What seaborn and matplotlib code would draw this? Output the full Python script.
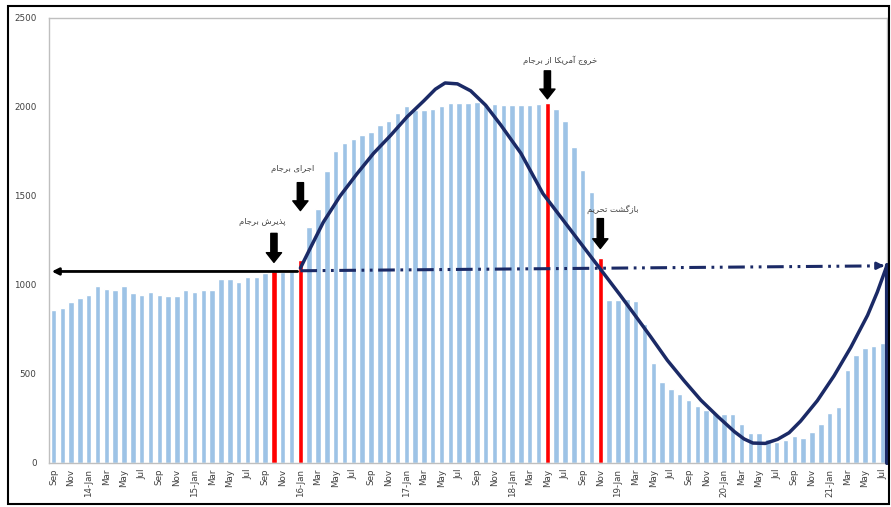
import pandas as pd
import matplotlib.pyplot as plt
import seaborn as sns
from matplotlib.patches import Rectangle

# Monthly values, Sep 2013 .. Jul 2021
months = pd.date_range("2013-09-01", periods=95, freq="MS")
values = [
    858, 873, 904, 929, 945, 992, 977, 973, 992, 955, 945, 960, 945, 940, 940,
    970, 960, 970, 970, 1033, 1033, 1015, 1045, 1045, 1067,
    1078, 1075, 1078, 1140,
    1325, 1427, 1640, 1754, 1796, 1820, 1844, 1861, 1900, 1919, 1969, 2007,
    1982, 1982, 1986, 2007, 2020, 2024, 2024, 2027, 2016, 2016, 2011, 2011,
    2011, 2013, 2016,
    2025, 1988, 1923, 1777, 1646, 1525, 1150,
    914, 917, 923, 910, 783, 562, 456, 413, 387, 353, 320, 297, 282, 275, 275,
    219, 166, 166, 133, 120, 129, 151, 138, 176, 219, 279, 316, 521, 605, 646,
    658, 674,
]
event_idx = [25, 28, 56, 62]
event_labels = ["پذیرش برجام", "اجرای برجام", "خروج آمریکا از برجام", "بازگشت تحریم"]

# hand-drawn trend curve (month index, value)
curve_x = [28.0, 29.2, 30.6, 32.5, 34.4, 36.3, 38.2, 40.1, 42.0, 43.3, 44.4, 45.8,
           47.3, 49.0, 50.7, 53.0, 55.5, 57.5, 60.0, 62.0, 64.3, 65.8, 67.7, 69.6,
           71.5, 73.4, 75.3, 77.2, 78.3, 79.3, 80.7, 82.1, 83.4, 84.7, 86.6, 88.5,
           90.4, 92.3, 93.4, 94.5]
curve_y = [1095, 1215, 1353, 1500, 1624, 1740, 1839, 1945, 2035, 2100, 2135, 2130,
           2091, 2010, 1900, 1740, 1513, 1383, 1220, 1090, 940, 839, 710, 577,
           462, 353, 262, 176, 135, 112, 110, 133, 170, 235, 350, 490,
           650, 830, 960, 1110]
base_left = 1076          # level before implementation
base_right = [1080, 1108]  # dash-dot level after implementation

# crude Persian shaping (presentation forms, visual order)
FORMS = {
    'ا': ('\uFE8D', '\uFE8E', None, None), 'آ': ('\uFE81', '\uFE82', None, None),
    'ب': ('\uFE8F', '\uFE90', '\uFE91', '\uFE92'), 'پ': ('\uFB56', '\uFB57', '\uFB58', '\uFB59'),
    'ت': ('\uFE95', '\uFE96', '\uFE97', '\uFE98'), 'ج': ('\uFE9D', '\uFE9E', '\uFE9F', '\uFEA0'),
    'ح': ('\uFEA1', '\uFEA2', '\uFEA3', '\uFEA4'), 'خ': ('\uFEA5', '\uFEA6', '\uFEA7', '\uFEA8'),
    'ذ': ('\uFEAB', '\uFEAC', None, None), 'ر': ('\uFEAD', '\uFEAE', None, None),
    'ز': ('\uFEAF', '\uFEB0', None, None), 'ش': ('\uFEB5', '\uFEB6', '\uFEB7', '\uFEB8'),
    'ک': ('\uFB8E', '\uFB8F', '\uFB90', '\uFB91'), 'گ': ('\uFB92', '\uFB93', '\uFB94', '\uFB95'),
    'م': ('\uFEE1', '\uFEE2', '\uFEE3', '\uFEE4'), 'و': ('\uFEED', '\uFEEE', None, None),
    'ی': ('\uFBFC', '\uFBFD', '\uFBFE', '\uFBFF'),
}


def shape(text):
    out = []
    for i, ch in enumerate(text):
        if ch not in FORMS:
            out.append(ch)
            continue
        prev = text[i - 1] if i > 0 else ''
        nxt = text[i + 1] if i + 1 < len(text) else ''
        jp = prev in FORMS and FORMS[prev][2] is not None
        jn = nxt in FORMS and FORMS[ch][2] is not None
        iso, fin, ini, med = FORMS[ch]
        out.append(med if jp and jn else fin if jp else ini if jn else iso)
    return ''.join(reversed(out))


labels = [m.strftime("%y-%b") if m.month == 1 else m.strftime("%b") for m in months]
colors = ["#FF0000" if i in event_idx else "#9DC3E6" for i in range(len(values))]
df = pd.DataFrame({"month": [m.strftime("%Y-%m") for m in months], "value": values})

sns.set_style("white")
plt.rcParams['font.family'] = ['DejaVu Sans']
plt.rcParams['lines.scale_dashes'] = False

fig = plt.figure(figsize=(8.91, 5.07), dpi=100)
ax = fig.add_axes([0.055, 0.0868, 0.9405, 0.8777])
sns.barplot(data=df, x="month", y="value", hue="month", palette=colors,
            legend=False, width=0.62, saturation=1, ax=ax)

navy = "#1B2A66"
ax.plot(curve_x, curve_y, color=navy, lw=2.5, solid_capstyle="round", zorder=4)
ax.plot([94.5, 94.5], [0, curve_y[-1]], color=navy, lw=3, clip_on=False, zorder=4)

# black baseline with arrow to the left
ax.annotate("", xy=(-0.5, base_left), xytext=(28, base_left),
            arrowprops=dict(arrowstyle="-|>", color="black", lw=2, mutation_scale=10),
            zorder=5, annotation_clip=False)
# dash-dot-dot line to the right
ax.plot([28, 93.8], [base_right[0], base_right[1] - 0.5], color=navy, lw=2.2,
        dashes=[12, 4, 2, 4, 2, 4], zorder=4)
ax.annotate("", xy=(94.5, base_right[1]), xytext=(93.5, base_right[1]),
            arrowprops=dict(arrowstyle="-|>", color=navy, lw=2, mutation_scale=10),
            zorder=5, annotation_clip=False)

# event arrows and labels
arrow_top = [1290, 1575, 2203, 1373]
arrow_tip = [1127, 1418, 2046, 1205]
text_x = [23.7, 27.1, 57.5, 63.4]
text_y = [1357, 1654, 2265, 1424]
for i, top, tip, tx, ty, lab in zip(event_idx, arrow_top, arrow_tip, text_x, text_y, event_labels):
    ax.annotate("", xy=(i, tip), xytext=(i, top),
                arrowprops=dict(facecolor="black", edgecolor="black", width=4.5,
                                headwidth=11, headlength=7, shrink=0), zorder=6)
    ax.text(tx, ty, shape(lab), ha="center", va="center", fontsize=6, color="#404040")

ax.set_xlim(-0.5, 94.5)
ax.set_ylim(0, 2500)
ax.set_yticks(range(0, 2501, 500))
ax.set_xticks(range(0, len(values), 2))
ax.set_xticklabels(labels[::2], rotation=90, fontsize=6.3, color="#404040")
ax.tick_params(axis="y", labelsize=6.3, labelcolor="#404040", length=0, pad=9)
ax.tick_params(axis="x", length=0, pad=4)
ax.set_xlabel("")
ax.set_ylabel("")
for s in ax.spines.values():
    s.set_color("#BFBFBF")
    s.set_linewidth(1)

fig.patches.append(Rectangle((0.009, 0.006), 0.989, 0.982, transform=fig.transFigure,
                             fill=False, edgecolor="black", lw=1.5))

fig.savefig("out.png", dpi=100)
